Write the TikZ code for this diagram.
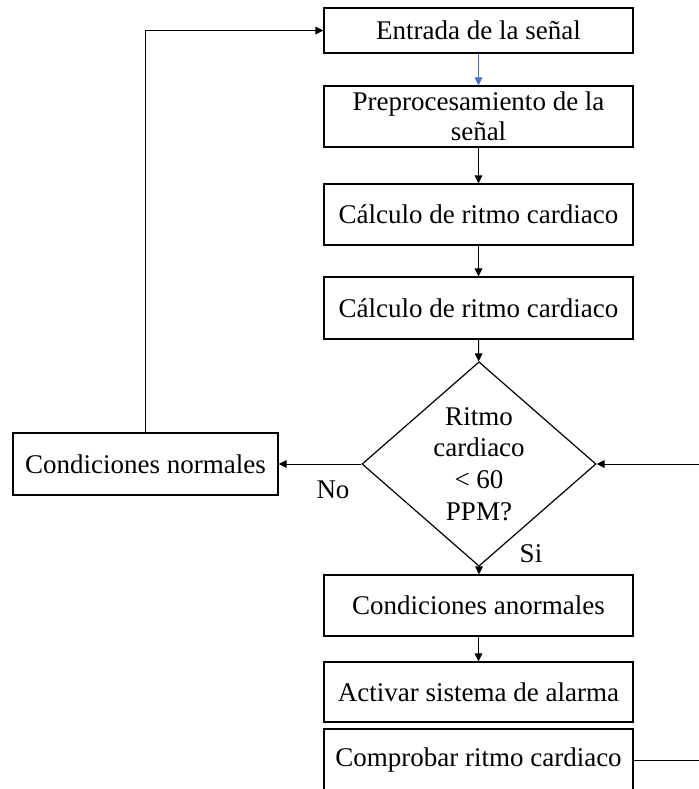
\documentclass[tikz,border=0pt]{standalone}
\usepackage{fontspec}
\setmainfont{Liberation Serif}
\usetikzlibrary{positioning,shapes.geometric,arrows.meta}
\definecolor{linkblue}{RGB}{68,114,196}

\begin{document}
\begin{tikzpicture}[x=0.5pt,y=-0.5pt,
    box/.style={rectangle,draw,line width=0.6pt,minimum width=154.5pt,minimum height=30.5pt,align=center,inner sep=0pt,font=\fontsize{13.5}{15}\selectfont},
    decision/.style={diamond,draw,line width=0.6pt,minimum width=117pt,minimum height=98.5pt,inner sep=0pt,align=center,font=\fontsize{13.5}{15.8}\selectfont},
    lbl/.style={inner sep=0pt,font=\fontsize{13.5}{15}\selectfont},
    arrow/.style={-{Triangle[length=4pt,width=3.8pt]},line width=0.5pt}]
    \useasboundingbox (0,0) rectangle (699,789);
    \clip (0,0) rectangle (699,789);
    % main column
    \node[box,minimum height=22.5pt] (ent) at (478.5,30.5) {Entrada de la señal};
    \node[box] (pre) at (478.5,116.5) {Preprocesamiento de la\\señal};
    \node[box] (calc1) at (478.5,214.5) {Cálculo de ritmo cardiaco};
    \node[box,minimum height=31pt] (calc2) at (478.5,308) {Cálculo de ritmo cardiaco};
    \node[decision] (dec) at (479,464) {Ritmo\\cardiaco\\< 60\\PPM?};
    \node[box,minimum width=132.5pt,minimum height=31pt] (norm) at (145.5,464) {Condiciones normales};
    \node[box] (anor) at (478.5,605.5) {Condiciones anormales};
    \node[box,minimum height=30pt] (act) at (478.5,692) {Activar sistema de alarma};
    \node[box,minimum height=31pt] (comp) at (478.5,760) {Comprobar ritmo cardiaco};
    \node[lbl] (no) at (333,490) {No};
    \node[lbl] (si) at (531,554) {Si};
    \coordinate (back) at (720,760);
    % connectors
    \draw[arrow,linkblue] (ent) -- (pre);
    \draw[arrow] (pre) -- (calc1);
    \draw[arrow] (calc1) -- (calc2);
    \draw[arrow] (calc2) -- (dec);
    \draw[arrow] (dec.west) -- (norm.east);
    \draw[arrow] (dec.south) -- (anor);
    \draw[arrow] (anor) -- (act);
    \draw[arrow] (norm.north) |- (ent.west);
    \draw[arrow] (comp.east) -- (back) |- (dec.east);
\end{tikzpicture}
\end{document}
